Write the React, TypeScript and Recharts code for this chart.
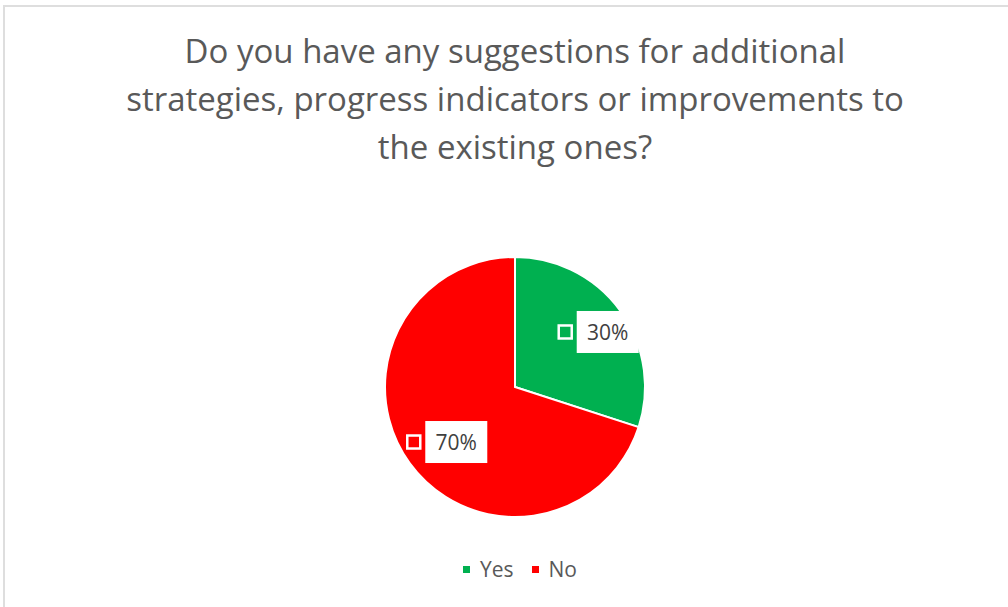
import { PieChart, Pie, Cell, Legend } from 'recharts'

const categories = ['Yes', 'No']
const shares = [30, 70]
const sliceColors = ['#00B050', '#FF0000']
const titleLines = [
  'Do you have any suggestions for additional',
  'strategies, progress indicators or improvements to',
  'the existing ones?',
]

const data = categories.map((name, i) => ({ name, value: shares[i] }))
const RAD = Math.PI / 180
const FONT = "'Open Sans', 'Liberation Sans', Arial, sans-serif"

function SliceLabel(props: any) {
  const { cx, cy, midAngle, outerRadius, index, percent } = props
  const r = outerRadius * 0.72
  const x = cx + r * Math.cos(-midAngle * RAD) + 17
  const y = cy + r * Math.sin(-midAngle * RAD)
  return (
    <g>
      <rect x={x - 49} y={y - 6.5} width={13} height={13} fill={sliceColors[index]} stroke="#fff" strokeWidth={2.5} />
      <rect x={x - 31} y={y - 21} width={62} height={42} fill="#fff" />
      <text x={x} y={y} textAnchor="middle" dominantBaseline="central" fill="#404040"
        fontSize={21} fontFamily={FONT}>
        {`${Math.round(percent * 100)}%`}
      </text>
    </g>
  )
}

function LegendBox() {
  return (
    <div style={{ display: 'flex', justifyContent: 'center', gap: 18, fontFamily: FONT, fontSize: 21, color: '#595959' }}>
      {categories.map((c, i) => (
        <span key={c} style={{ display: 'flex', alignItems: 'center' }}>
          <span style={{ width: 7, height: 7, background: sliceColors[i], marginRight: 10 }} />
          {c}
        </span>
      ))}
    </div>
  )
}

export default function App() {
  return (
    <div style={{ position: 'relative', width: 1008, height: 607, overflow: 'hidden', background: '#fff' }}>
      <style>{'body{margin:0}'}</style>
      <div style={{ position: 'absolute', left: 3, top: 5, width: 1020, height: 620, border: '2px solid #dedede' }} />
      <svg width={1008} height={180} style={{ position: 'absolute', left: 0, top: 0 }}>
        {titleLines.map((t, i) => (
          <text key={i} x={515} y={63 + i * 48} textAnchor="middle" fill="#595959" fontSize={33}
            fontFamily={FONT}>{t}</text>
        ))}
      </svg>
      <div style={{ position: 'absolute', left: 0, top: 0 }}>
        <PieChart width={1008} height={607} margin={{ top: 0, right: 0, bottom: 0, left: 0 }}>
          <Pie data={data} dataKey="value" nameKey="name" cx={515} cy={387} outerRadius={130}
            startAngle={90} endAngle={-270} stroke="#fff" strokeWidth={2}
            label={SliceLabel} labelLine={false} isAnimationActive={false}>
            {data.map((d, i) => <Cell key={d.name} fill={sliceColors[i]} />)}
          </Pie>
          <Legend content={LegendBox} wrapperStyle={{ top: 555, left: 16, width: 1008 }} />
        </PieChart>
      </div>
    </div>
  )
}
